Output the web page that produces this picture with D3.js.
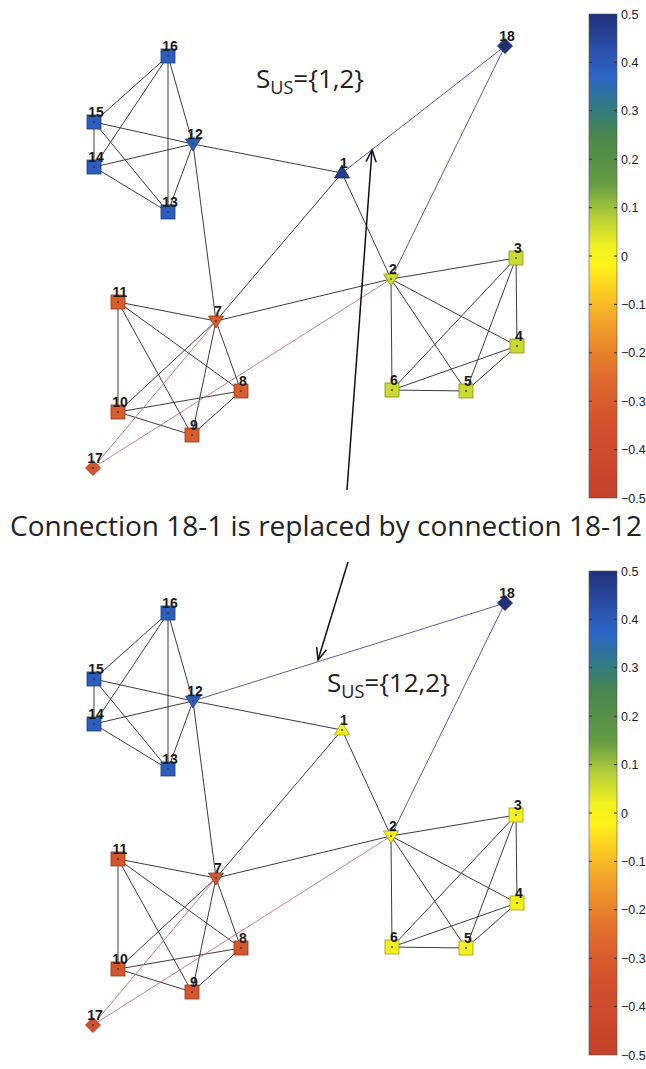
<!DOCTYPE html>
<html>
<head>
<meta charset="utf-8">
<script src="https://cdn.jsdelivr.net/npm/d3@7"></script>
<style>
  html, body { margin: 0; padding: 0; background: #fff; }
  svg { display: block; }
</style>
</head>
<body>
<svg id="chart" width="646" height="1069"></svg>
<script>
// ---- network data ----
const nodeIds = [1, 2, 3, 4, 5, 6, 7, 8, 9, 10, 11, 12, 13, 14, 15, 16, 17, 18];
// layout coordinates of each node
const nodeX = [342, 391, 516, 517, 466, 392, 216, 241, 192, 118, 118, 193, 168, 94, 94, 168, 93, 505];
const nodeY = [173, 279, 258, 346, 391, 390, 321, 391, 435, 412, 302, 144, 212, 167, 122, 56, 468, 46];
const nodeShape = ["up", "down", "sq", "sq", "sq", "sq", "down", "sq", "sq", "sq", "sq", "down", "sq", "sq", "sq", "sq", "dia", "dia"];

// node values before and after rewiring
const valuesBefore = [0.47, 0.06, 0.06, 0.06, 0.06, 0.06, -0.3, -0.3, -0.3, -0.3, -0.3, 0.39, 0.39, 0.39, 0.39, 0.39, -0.33, 0.5];
const valuesAfter  = [0.0, 0.01, 0.01, 0.01, 0.01, 0.01, -0.33, -0.33, -0.33, -0.33, -0.33, 0.39, 0.39, 0.39, 0.39, 0.39, -0.35, 0.5];

// edges shared by both networks
const sharedEdges = [
  [16, 15], [16, 14], [16, 13], [16, 12], [15, 14], [15, 13], [15, 12], [14, 12], [14, 13], [13, 12],
  [12, 1], [12, 7], [1, 7], [1, 2],
  [2, 3], [2, 7], [2, 4], [2, 5], [2, 6], [3, 4], [3, 6], [3, 5], [4, 6], [4, 5], [5, 6],
  [7, 11], [7, 10], [7, 9], [7, 8], [11, 10], [11, 9], [11, 8], [10, 8], [10, 9], [9, 8]
];
const redEdges = [[17, 7], [17, 2]];
const blueEdgesBefore = [[18, 1], [18, 2]];
const blueEdgesAfter = [[18, 12], [18, 2]];

const colorTicks = [0.5, 0.4, 0.3, 0.2, 0.1, 0, -0.1, -0.2, -0.3, -0.4, -0.5];

const titleBefore = "{1,2}";
const titleAfter = "{12,2}";
const caption = "Connection 18-1 is replaced by connection 18-12";

// ---- colormap ----
const cmapDomain = [-0.5, -0.35, -0.25, -0.15, -0.07, -0.02, 0.02, 0.08, 0.15, 0.25, 0.31, 0.37, 0.43, 0.5];
const cmapRange = ["#c4402c", "#d2502c", "#e06a2c", "#f19a2a", "#fbce22", "#fff21a", "#f2f020", "#b6d038", "#649c44", "#4a864c", "#2f7a86", "#2f66c8", "#2a4ea8", "#20307a"];
const color = d3.scaleLinear().domain(cmapDomain).range(cmapRange).interpolate(d3.interpolateRgb).clamp(true);

const svg = d3.select("#chart");
const nodes = nodeIds.map((id, i) => ({ id, x: nodeX[i], y: nodeY[i], shape: nodeShape[i] }));
const byId = new Map(nodes.map(n => [n.id, n]));

// gradient for the colour bars
const defs = svg.append("defs");
const grad = defs.append("linearGradient").attr("id", "cbar")
  .attr("x1", 0).attr("y1", 1).attr("x2", 0).attr("y2", 0);
cmapDomain.forEach((v, i) => {
  grad.append("stop").attr("offset", (v + 0.5)).attr("stop-color", cmapRange[i]);
});

function drawPanel(offset, values, blueEdges, title, titlePos) {
  const x = d3.scaleLinear().domain([0, 646]).range([0, 646]);
  const y = d3.scaleLinear().domain([0, 520]).range([offset, offset + 520]);
  const g = svg.append("g");

  const edgeLayer = g.append("g");
  const line = (list, stroke, width) => edgeLayer.selectAll(null).data(list).enter().append("line")
    .attr("x1", d => x(byId.get(d[0]).x)).attr("y1", d => y(byId.get(d[0]).y))
    .attr("x2", d => x(byId.get(d[1]).x)).attr("y2", d => y(byId.get(d[1]).y))
    .attr("stroke", stroke).attr("stroke-width", width);
  line(sharedEdges, "#3c3c3c", 1);
  line(redEdges, "#c8707c", 0.9);
  line(blueEdges, "#5a5aa8", 1);

  const nodeLayer = g.append("g");
  nodes.forEach((n, i) => {
    const cx = x(n.x), cy = y(n.y);
    const fill = color(values[i]);
    const stroke = d3.color(fill).darker(1.2).formatHex();
    let shape;
    if (n.shape === "sq") {
      shape = nodeLayer.append("rect").attr("x", cx - 7).attr("y", cy - 7).attr("width", 14).attr("height", 14);
    } else if (n.shape === "up") {
      shape = nodeLayer.append("path").attr("d", `M${cx},${cy - 8} L${cx + 7.5},${cy + 5} L${cx - 7.5},${cy + 5} Z`);
    } else if (n.shape === "down") {
      shape = nodeLayer.append("path").attr("d", `M${cx - 7.5},${cy - 5} L${cx + 7.5},${cy - 5} L${cx},${cy + 7} Z`);
    } else {
      shape = nodeLayer.append("path").attr("d", `M${cx},${cy - 7.5} L${cx + 7.5},${cy} L${cx},${cy + 7.5} L${cx - 7.5},${cy} Z`);
    }
    shape.attr("fill", fill).attr("stroke", stroke).attr("stroke-width", 0.8);
    nodeLayer.append("circle").attr("cx", cx).attr("cy", cy).attr("r", 0.9).attr("fill", "#333");
    const dy = n.shape === "dia" ? -5 : -5;
    nodeLayer.append("text")
      .attr("x", cx + 2).attr("y", cy + dy)
      .attr("text-anchor", "middle")
      .attr("font-family", "Liberation Sans, Arial, sans-serif")
      .attr("font-size", 14)
      .attr("font-weight", "bold")
      .attr("fill", "#1a1a1a")
      .text(n.id);
  });

  // S_US label
  const t = g.append("text")
    .attr("x", x(titlePos[0])).attr("y", y(titlePos[1]))
    .attr("font-family", "Open Sans, sans-serif")
    .attr("font-size", 26)
    .attr("fill", "#222");
  t.append("tspan").text("S");
  t.append("tspan").attr("font-size", 18).attr("dy", 6).text("US");
  t.append("tspan").attr("dy", -6).text("=" + title);

  // colour bar
  const cb = d3.scaleLinear().domain([-0.5, 0.5]).range([offset + 498, offset + 14]);
  const barX = 589, barW = 28;
  const cg = svg.append("g");
  cg.append("rect").attr("x", barX).attr("y", cb(0.5)).attr("width", barW)
    .attr("height", cb(-0.5) - cb(0.5)).attr("fill", "url(#cbar)")
    .attr("stroke", "#555").attr("stroke-width", 0.6);
  cg.selectAll(null).data(colorTicks.slice(1, -1)).enter().append("path")
    .attr("d", d => `M${barX},${cb(d)} h3 M${barX + barW},${cb(d)} h-3`)
    .attr("stroke", "#333").attr("stroke-width", 1);
  const axis = d3.axisRight(cb).tickValues(colorTicks).tickSize(0).tickPadding(4)
    .tickFormat(d => d === 0 ? "0" : d3.format(".1f")(d));
  const ag = cg.append("g").attr("transform", `translate(${barX + barW},0)`).call(axis);
  ag.select(".domain").remove();
  ag.selectAll("text").attr("font-family", "Liberation Sans, Arial, sans-serif")
    .attr("font-size", 12.5).attr("fill", "#222");
  return { x, y };
}

const panelBefore = drawPanel(0, valuesBefore, blueEdgesBefore, titleBefore, [256, 88]);
const panelAfter = drawPanel(557, valuesAfter, blueEdgesAfter, titleAfter, [327, 135]);

// caption
svg.append("text")
  .attr("x", 10).attr("y", 536)
  .attr("font-family", "Open Sans, sans-serif")
  .attr("font-size", 27)
  .attr("fill", "#222")
  .attr("textLength", 632)
  .attr("lengthAdjust", "spacingAndGlyphs")
  .text(caption);

// arrows pointing from the caption to the rewired connection
function arrow(x1, y1, x2, y2) {
  const ang = Math.atan2(y2 - y1, x2 - x1);
  const len = 13, spread = 0.4;
  const g = svg.append("g").attr("stroke", "#111").attr("fill", "none").attr("stroke-width", 1.5);
  g.append("line").attr("x1", x1).attr("y1", y1).attr("x2", x2).attr("y2", y2);
  g.append("path").attr("d",
    `M${x2 - len * Math.cos(ang - spread)},${y2 - len * Math.sin(ang - spread)} L${x2},${y2} L${x2 - len * Math.cos(ang + spread)},${y2 - len * Math.sin(ang + spread)}`);
}
arrow(panelBefore.x(347), panelBefore.y(490), panelBefore.x(372), panelBefore.y(150));
arrow(panelAfter.x(348), panelAfter.y(5), panelAfter.x(318), panelAfter.y(103));
</script>
</body>
</html>
